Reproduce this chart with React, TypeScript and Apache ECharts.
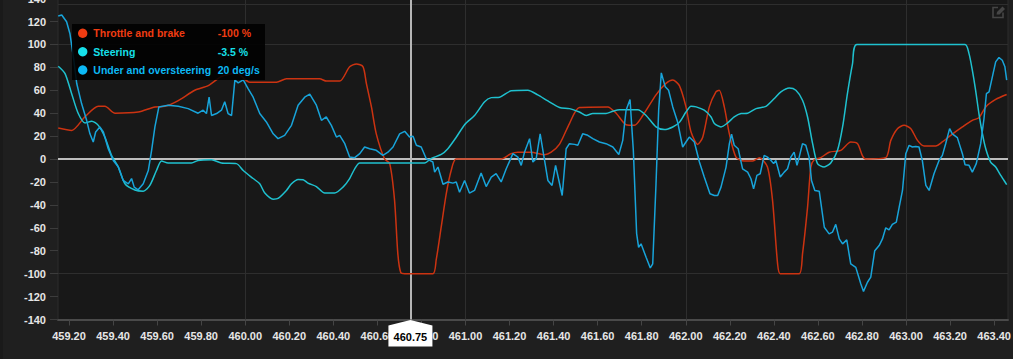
import React, { useEffect, useRef } from 'react';
import * as echarts from 'echarts';

const seriesNames = ['Throttle and brake', 'Steering', 'Under and oversteering'];
const seriesColors = ['#cc3311', '#1fc1cf', '#18a4da'];
const tooltipColors = ['#f03c12', '#16e0ea', '#0cb8f4'];
const tooltipValues = ['-100 %', '-3.5 %', '20 deg/s'];
const cursorX = 460.75;

const xMin = 459.15;
const xMax = 463.463;
const xTickValues = [459.2, 459.4, 459.6, 459.8, 460.0, 460.2, 460.4, 460.6, 460.8, 461.0, 461.2, 461.4, 461.6, 461.8, 462.0, 462.2, 462.4, 462.6, 462.8, 463.0, 463.2, 463.4];
const xGridValues = [460, 461, 462, 463];
const yMin = -140;
const yMax = 140;
const yInterval = 20;
const yGridValues = [-100, 100];

const throttle: [number, number][] = [
  [459.151, 27], [459.212, 25], [459.273, 37], [459.333, 46], [459.363, 46], [459.409, 40], [459.514, 41], [459.59, 45.5], [459.635, 46], [459.696, 51], [459.771, 60], [459.832, 64], [459.892, 72], [459.96, 75], [460.021, 67], [460.142, 67], [460.187, 70], [460.338, 70], [460.369, 68], [460.429, 68], [460.474, 80.5], [460.505, 83], [460.535, 80.5], [460.55, 66], [460.573, 45.5], [460.595, 22], [460.633, 0], [460.656, -4], [460.678, -36], [460.693, -83], [460.706, -99], [460.724, -100], [460.852, -100], [460.867, -88], [460.89, -59], [460.913, -30], [460.935, -10], [460.958, 0], [461.162, 0], [461.207, 4.7], [461.238, 6], [461.298, 6], [461.359, 3.8], [461.389, 6], [461.427, 13], [461.472, 31], [461.517, 45], [461.646, 45.5], [461.684, 40], [461.729, 30], [461.767, 29.5], [461.805, 38], [461.865, 56], [461.91, 66], [461.941, 69], [461.971, 64], [462.001, 45.5], [462.024, 23.6], [462.054, 12.8], [462.077, 19], [462.107, 45.5], [462.137, 58.6], [462.152, 60], [462.175, 45.5], [462.198, 22], [462.228, 1.7], [462.266, -1.7], [462.304, -1.7], [462.334, 1.2], [462.371, -7], [462.394, -36], [462.417, -91.5], [462.429, -100], [462.515, -100], [462.53, -83], [462.553, -42], [462.568, -7], [462.583, -0.6], [462.613, 1.2], [462.651, 6], [462.704, 7.6], [462.749, 14.9], [462.78, 13.4], [462.802, 3], [462.817, 0], [462.908, 1.2], [462.931, 16.3], [462.961, 26.5], [462.991, 29.4], [463.022, 26.5], [463.052, 16.3], [463.082, 11.4], [463.135, 11.4], [463.165, 14.9], [463.203, 20.7], [463.256, 28], [463.301, 33.8], [463.331, 36], [463.362, 45.5], [463.407, 52], [463.457, 56.3],
];

const steering: [number, number][] = [
  [459.151, 81], [459.182, 74.6], [459.212, 57], [459.242, 39.7], [459.273, 31.5], [459.303, 33], [459.333, 29.4], [459.363, 19], [459.393, 3.2], [459.424, -7], [459.454, -21.6], [459.499, -27], [459.537, -28], [459.567, -23], [459.597, -10], [459.62, -1.7], [459.65, -3.5], [459.756, -3.5], [459.786, -1.2], [459.847, -0.6], [459.892, -3.5], [459.96, -4], [459.991, -10], [460.036, -17], [460.066, -21.6], [460.089, -29.7], [460.127, -35], [460.149, -34.4], [460.187, -27.4], [460.21, -21.6], [460.24, -17.8], [460.263, -18], [460.285, -21], [460.323, -24], [460.361, -29.7], [460.406, -29.7], [460.444, -24.5], [460.474, -17], [460.497, -8.5], [460.52, -3.5], [460.814, -3.5], [460.845, 0.6], [460.89, 4], [460.92, 9], [460.958, 19], [460.996, 30], [461.041, 38], [461.087, 50], [461.117, 53.6], [461.155, 54], [461.207, 59.5], [461.283, 60], [461.328, 56], [461.374, 50.7], [461.427, 45], [461.472, 44], [461.517, 41], [461.548, 38], [461.578, 39.7], [461.638, 39.7], [461.669, 41.7], [461.699, 43], [461.782, 43], [461.82, 38], [461.865, 28], [461.903, 25.7], [461.941, 28], [461.971, 32], [462.001, 41], [462.024, 46], [462.047, 45.5], [462.084, 42.6], [462.115, 36.7], [462.13, 31], [462.16, 28], [462.19, 31.5], [462.22, 36.7], [462.251, 39.7], [462.281, 40], [462.319, 44], [462.364, 46], [462.402, 52.8], [462.432, 58.6], [462.47, 62], [462.5, 60], [462.53, 51.3], [462.553, 36.7], [462.576, 13.4], [462.598, -4], [462.628, -7], [462.659, -3.2], [462.689, 7.6], [462.712, 28], [462.734, 57], [462.757, 83], [462.777, 100], [463.268, 100], [463.286, 92], [463.301, 77.6], [463.316, 60], [463.331, 39.7], [463.347, 22], [463.362, 9], [463.384, -2.6], [463.407, -7], [463.43, -14.3], [463.445, -18.7], [463.457, -22.4],
];

const understeer: [number, number][] = [
  [459.151, 124.8], [459.167, 125.7], [459.189, 119.8], [459.204, 109.6], [459.22, 89], [459.235, 65.9], [459.257, 48.4], [459.28, 33.8], [459.295, 22], [459.31, 14.9], [459.321, 23.6], [459.34, 28], [459.356, 23.6], [459.378, 9], [459.401, -1.2], [459.424, -7], [459.446, -18.7], [459.469, -21.6], [459.484, -17], [459.496, -24.5], [459.514, -26.8], [459.537, -21.6], [459.56, -10], [459.575, 7.6], [459.59, 28], [459.608, 45.5], [459.65, 47], [459.696, 46], [459.741, 44], [459.786, 40], [459.809, 42.6], [459.824, 39.7], [459.836, 54], [459.847, 38], [459.87, 39.7], [459.892, 42.6], [459.907, 50], [459.922, 39.7], [459.938, 38], [459.953, 69], [459.968, 66.5], [459.991, 69], [460.013, 61.5], [460.036, 54], [460.066, 39.7], [460.096, 32.4], [460.127, 22], [460.149, 17.8], [460.179, 20.7], [460.21, 29.4], [460.24, 47], [460.27, 54], [460.293, 56.6], [460.323, 47], [460.346, 33.8], [460.368, 36.7], [460.391, 29.4], [460.414, 19.2], [460.429, 20.7], [460.452, 13.4], [460.474, 1.7], [460.497, 1.2], [460.52, 4.7], [460.542, 10.5], [460.565, 9], [460.595, 7.6], [460.625, 3.2], [460.648, 6], [460.671, 10.5], [460.701, 22], [460.724, 24.2], [460.746, 19.2], [460.762, 19.8], [460.777, 12], [460.799, 10.5], [460.822, 0.3], [460.837, -1.2], [460.852, -2.6], [460.86, -11.4], [460.875, -7], [460.898, -22], [460.92, -20], [460.943, -21], [460.958, -20], [460.973, -29], [460.996, -18.7], [461.018, -29.7], [461.041, -27.4], [461.071, -12.2], [461.094, -24], [461.117, -15.7], [461.139, -12.8], [461.162, -20], [461.185, -8.5], [461.215, 4.7], [461.238, 1.7], [461.253, -5.5], [461.268, 6], [461.291, 17.8], [461.306, -2.6], [461.321, 0.3], [461.339, 22], [461.359, -1.2], [461.374, -18.7], [461.393, -23], [461.409, -5.5], [461.424, -18.7], [461.439, -31.8], [461.457, 9], [461.472, 13.4], [461.495, 12.8], [461.51, 12], [461.532, 22], [461.555, 20.7], [461.578, 17.8], [461.608, 14.9], [461.638, 13.4], [461.669, 10.5], [461.696, 4], [461.714, 16.3], [461.729, 42.6], [461.747, 52], [461.762, 7.6], [461.777, -65], [461.786, -77], [461.797, -74], [461.82, -85.7], [461.839, -95], [461.85, -91.5], [461.865, -21.6], [461.877, 42.6], [461.889, 75.2], [461.907, 63], [461.922, 60], [461.941, 45.5], [461.963, 32.4], [461.986, 10.5], [462.001, 14.9], [462.016, 19.2], [462.039, 14.9], [462.062, -2.6], [462.084, -15.7], [462.11, -30.3], [462.13, -31.8], [462.145, -31.8], [462.16, -24.5], [462.183, -7], [462.198, 13.4], [462.208, 21.6], [462.22, 12], [462.238, 9], [462.258, -8.5], [462.281, -11.4], [462.296, -17.2], [462.308, -26], [462.323, -14.3], [462.338, -12.8], [462.356, 3.2], [462.371, 1.7], [462.387, -1.2], [462.399, -4], [462.409, -1.2], [462.429, -15.7], [462.447, -11.4], [462.462, -8.5], [462.477, 1.7], [462.492, 6], [462.505, -5.5], [462.515, 1.7], [462.53, 13.4], [462.545, 12], [462.56, 1.7], [462.571, -18.7], [462.586, -27.4], [462.606, -28], [462.629, -59.5], [462.651, -65.3], [462.666, -63.8], [462.681, -57], [462.697, -69.7], [462.712, -74], [462.731, -70.5], [462.749, -91.5], [462.772, -94.5], [462.795, -109], [462.807, -115.5], [462.825, -107.5], [462.84, -103], [462.858, -80], [462.878, -75.5], [462.893, -69.7], [462.908, -60], [462.923, -61.8], [462.938, -57], [462.956, -55], [462.969, -42], [462.984, -27.4], [462.999, 4.7], [463.014, 12], [463.029, 10.5], [463.044, 11], [463.059, 10.5], [463.074, -1.2], [463.09, -23], [463.105, -27.4], [463.127, -12.8], [463.15, -1.2], [463.165, 3.2], [463.18, 13.4], [463.198, 26.5], [463.21, 22], [463.233, 18.7], [463.256, 4.7], [463.268, -5], [463.286, -5.5], [463.301, -11.4], [463.319, -4], [463.339, 13.4], [463.354, 35.3], [463.365, 57], [463.377, 58.6], [463.392, 71.7], [463.407, 84.8], [463.422, 88.6], [463.437, 86.2], [463.449, 80.5], [463.457, 68.8],
];

const FONT = '"Liberation Sans", Arial, sans-serif';

export default function App() {
  const ref = useRef<HTMLDivElement>(null);

  useEffect(() => {
    if (!ref.current) return;
    const chart = echarts.init(ref.current, undefined, { renderer: 'svg' });
    const seriesData = [throttle, steering, understeer];

    const option: any = {
      animation: false,
      backgroundColor: '#1f1f1f',
      grid: {
        left: 58,
        right: 5,
        top: -1.4,
        bottom: 39.5,
        outerBoundsMode: 'none',
        containLabel: false,
        show: true,
        backgroundColor: '#181818',
        borderColor: '#2c2c2c',
        borderWidth: 1,
      },
      xAxis: {
        type: 'value',
        min: xMin,
        max: xMax,
        axisLine: { show: true, onZero: false, lineStyle: { color: '#4a4a4a', width: 2 } },
        axisTick: { show: true, length: 6, customValues: xTickValues, lineStyle: { color: '#454545' } },
        axisLabel: {
          customValues: xTickValues,
          formatter: (v: number) => v.toFixed(2),
          color: '#e6e6e6',
          fontSize: 11,
          fontWeight: 'bold',
          fontFamily: FONT,
          margin: 11,
        },
        splitLine: { show: false },
      },
      yAxis: {
        type: 'value',
        min: yMin,
        max: yMax,
        interval: yInterval,
        axisLine: { show: false },
        axisTick: { show: true, length: 8, lineStyle: { color: '#3c3c3c' } },
        axisLabel: {
          color: '#e6e6e6',
          fontSize: 11,
          fontWeight: 'bold',
          fontFamily: FONT,
          margin: 12,
        },
        splitLine: { show: false },
      },
      series: [
        {
          type: 'line',
          data: [],
          z: 1,
          silent: true,
          markLine: {
            z: 1,
            silent: true,
            symbol: ['none', 'none'],
            label: { show: false },
            lineStyle: { color: '#2e2e2e', width: 1, type: 'solid' },
            data: [
              ...xGridValues.map((v) => ({ xAxis: v })),
              ...yGridValues.map((v) => ({ yAxis: v })),
            ],
          },
        },
        {
          type: 'line',
          data: [],
          z: 2,
          silent: true,
          markLine: {
            z: 2,
            silent: true,
            symbol: ['none', 'none'],
            label: { show: false },
            data: [
              { yAxis: 0, lineStyle: { color: '#bdbdbd', width: 2, type: 'solid' } },
              { xAxis: cursorX, lineStyle: { color: '#b5b5b5', width: 2, type: 'solid' } },
            ],
          },
        },
        ...seriesData.map((d, i) => ({
          name: seriesNames[i],
          type: 'line',
          data: d,
          z: 3,
          showSymbol: false,
          symbol: 'none',
          smooth: i === 2 ? 0 : 0.25,
          lineStyle: { color: seriesColors[i], width: 1.5 },
          itemStyle: { color: seriesColors[i] },
        })),
      ],
    };
    chart.setOption(option);

    const px = chart.convertToPixel({ xAxisIndex: 0 }, cursorX) as number;
    const pyBottom = chart.convertToPixel({ yAxisIndex: 0 }, yMin) as number;
    const plotLeft = chart.convertToPixel({ xAxisIndex: 0 }, xMin) as number;
    const plotRight = chart.convertToPixel({ xAxisIndex: 0 }, xMax) as number;

    const Z = 100;
    const rowY = [9.3, 27.7, 46];
    const tooltipChildren: any[] = [
      { type: 'rect', z: Z, shape: { x: 0, y: 0, width: 193, height: 56 }, style: { fill: 'rgba(0,0,0,0.88)' } },
    ];
    seriesNames.forEach((name, i) => {
      tooltipChildren.push({
        type: 'circle',
        z: Z + 1,
        shape: { cx: 10.7, cy: rowY[i], r: 4.7 },
        style: { fill: tooltipColors[i] },
      });
      tooltipChildren.push({
        type: 'text',
        z: Z + 1,
        x: 21.3,
        y: rowY[i],
        style: {
          text: name,
          fill: tooltipColors[i],
          fontSize: 10.5,
          fontWeight: 'bold',
          fontFamily: FONT,
          verticalAlign: 'middle',
          align: 'left',
        },
      });
      tooltipChildren.push({
        type: 'text',
        z: Z + 1,
        x: 145.7,
        y: rowY[i],
        style: {
          text: tooltipValues[i],
          fill: tooltipColors[i],
          fontSize: 10.5,
          fontWeight: 'bold',
          fontFamily: FONT,
          verticalAlign: 'middle',
          align: 'left',
        },
      });
    });

    chart.setOption({
      graphic: [
        { type: 'rect', z: 0, shape: { x: 0, y: 0, width: 3, height: 359 }, style: { fill: '#1a1a1a' } },
        {
          type: 'line',
          z: 1,
          shape: { x1: plotLeft, y1: 4.5, x2: plotRight, y2: 4.5 },
          style: { stroke: '#2e2e2e', lineWidth: 1 },
          silent: true,
        },
        {
          type: 'group',
          x: 72,
          y: 24,
          silent: true,
          children: tooltipChildren,
        },
        {
          type: 'group',
          x: px,
          y: pyBottom,
          silent: true,
          children: [
            {
              type: 'polygon',
              z: Z,
              shape: { points: [[-22, 6], [0, 0.5], [22, 6], [22, 27], [-22, 27]] },
              style: { fill: '#ffffff' },
            },
            {
              type: 'text',
              z: Z + 1,
              x: 0,
              y: 17.5,
              style: {
                text: cursorX.toFixed(2),
                fill: '#000000',
                fontSize: 11,
                fontWeight: 'bold',
                fontFamily: FONT,
                align: 'center',
                verticalAlign: 'middle',
              },
            },
          ],
        },
        {
          type: 'group',
          x: 992,
          y: 6,
          silent: true,
          children: [
            {
              type: 'polyline',
              z: Z,
              shape: { points: [[6, 1.5], [1, 1.5], [1, 11.5], [11, 11.5], [11, 6.5]] },
              style: { stroke: '#454545', lineWidth: 1.6, fill: 'none' },
            },
            {
              type: 'polygon',
              z: Z,
              shape: { points: [[4.5, 8.5], [5, 6], [10.5, 0.5], [13, 3], [7.5, 8.5]] },
              style: { fill: '#454545' },
            },
          ],
        },
      ],
    });

    return () => chart.dispose();
  }, []);

  return (
    <div
      ref={ref}
      style={{ position: 'fixed', left: 0, top: 0, width: 1013, height: 359 }}
    />
  );
}
